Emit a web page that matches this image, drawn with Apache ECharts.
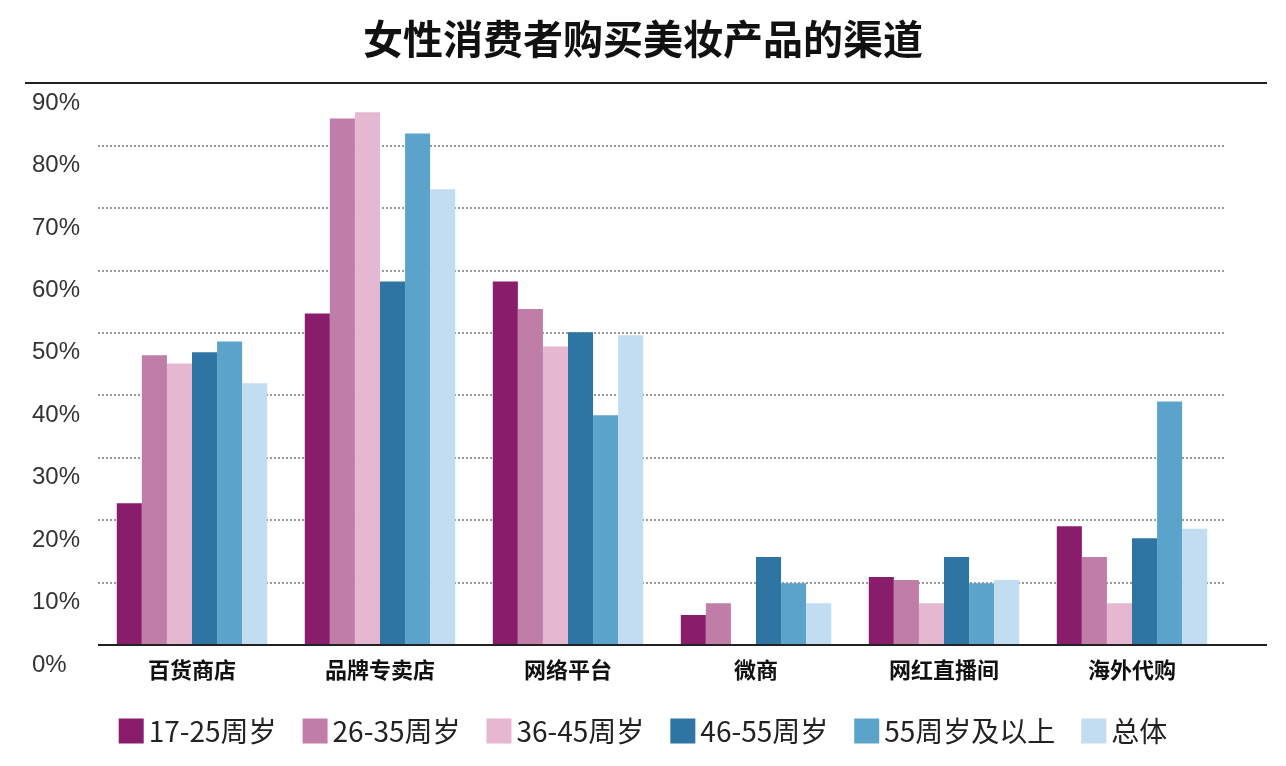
<!DOCTYPE html>
<html><head><meta charset="utf-8">
<script src="https://cdn.jsdelivr.net/npm/echarts@6/dist/echarts.min.js"></script>
<style>html,body{margin:0;padding:0;background:#fff}#c{width:1286px;height:766px}</style>
</head><body><div id="c"></div>
<script>
const categories = ['百货商店','品牌专卖店','网络平台','微商','网红直播间','海外代购'];
const seriesNames = ['17-25周岁','26-35周岁','36-45周岁','46-55周岁','55周岁及以上','总体'];
const v1725 = [22.7, 53.1, 58.2, 4.8, 10.9, 19.0];
const v2635 = [46.4, 84.3, 53.8, 6.7, 10.4, 14.1];
const v3645 = [45.1, 85.3, 47.8, 0, 6.7, 6.7];
const v4655 = [46.9, 58.2, 50.1, 14.1, 14.1, 17.1];
const v55 = [48.6, 81.9, 36.8, 9.9, 9.9, 39.0];
const vAll = [41.9, 73.0, 49.6, 6.7, 10.4, 18.6];
const colors = ['#8A1C6C','#BF7DA8','#E5B7D0','#2E75A4','#5CA3CC','#C2DDF1'];
const data = [v1725, v2635, v3645, v4655, v55, vAll];
const chart = echarts.init(document.getElementById('c'));
chart.setOption({
  animation:false,
  title:{text:'女性消费者购买美妆产品的渠道',left:'center',top:14,textStyle:{fontSize:40,fontWeight:'bold',color:'#111',fontFamily:'Noto Sans CJK SC'}},
  legend:{bottom:16,left:'center',itemWidth:25,itemHeight:25,itemGap:26,icon:'rect',textStyle:{fontSize:28,color:'#222',fontFamily:'Noto Sans CJK SC'}},
  grid:{left:98,right:60,top:83,bottom:121},
  xAxis:{type:'category',data:categories,axisLine:{show:false},axisTick:{show:false},
    axisLabel:{fontSize:22,fontWeight:'bold',color:'#111',margin:14,fontFamily:'Noto Sans CJK SC'}},
  yAxis:{type:'value',min:0,max:90,interval:10,
    axisLabel:{formatter:'{value}%',fontSize:24,color:'#333',align:'left',margin:66,verticalAlign:'top',padding:[8,0,0,0]},
    axisLine:{show:false},axisTick:{show:false},
    splitLine:{showMaxLine:false,showMinLine:false,lineStyle:{type:'dotted',color:'#999',width:2}}},
  graphic:[
    {type:'line',z:10,shape:{x1:25,y1:83,x2:1267,y2:83},style:{stroke:'#222',lineWidth:2}},
    {type:'line',z:10,shape:{x1:98,y1:645,x2:1267,y2:645},style:{stroke:'#222',lineWidth:2}}
  ],
  series: seriesNames.map((n,i)=>({name:n,type:'bar',data:data[i],itemStyle:{color:colors[i]},barGap:'0%',barCategoryGap:'20%'}))
});
</script></body></html>
